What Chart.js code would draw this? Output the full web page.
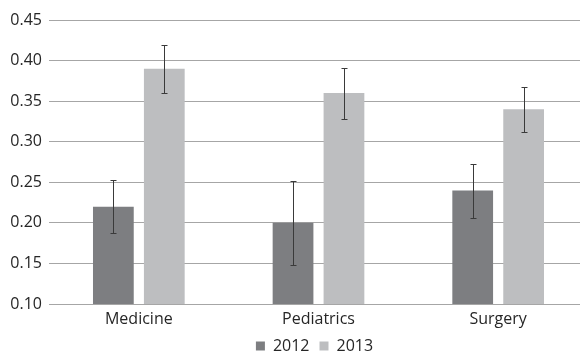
<!DOCTYPE html>
<html>
<head>
<meta charset="utf-8">
<script src="https://cdn.jsdelivr.net/npm/chart.js@4"></script>
<style>
  html, body { margin: 0; padding: 0; background: #fff; }
  #wrap { width: 580px; height: 353px; }
</style>
</head>
<body>
<div id="wrap"><canvas id="chart" width="580" height="353"></canvas></div>
<script>
const categories = ['Medicine', 'Pediatrics', 'Surgery'];
const seriesNames = ['2012', '2013'];
const values2012 = [0.22, 0.20, 0.24];
const values2013 = [0.39, 0.36, 0.34];
// error bar ends
const low2012 = [0.187, 0.148, 0.206];
const high2012 = [0.253, 0.252, 0.273];
const low2013 = [0.360, 0.328, 0.312];
const high2013 = [0.419, 0.391, 0.367];
const yTicks = [0.10, 0.15, 0.20, 0.25, 0.30, 0.35, 0.40, 0.45];

const errorRanges = [
    { low: low2012, high: high2012 },
    { low: low2013, high: high2013 }
];

// draws the whiskers using the chart's own y scale
const errorBars = {
    id: 'errorBars',
    afterDatasetsDraw(chart) {
        const ctx = chart.ctx;
        const yScale = chart.scales.y;
        ctx.save();
        ctx.strokeStyle = '#3a3a3a';
        ctx.lineWidth = 1;
        chart.data.datasets.forEach((ds, i) => {
            const meta = chart.getDatasetMeta(i);
            meta.data.forEach((bar, j) => {
                const x = Math.round(bar.x) + 0.5;
                const yTop = Math.round(yScale.getPixelForValue(errorRanges[i].high[j])) + 0.5;
                const yBot = Math.round(yScale.getPixelForValue(errorRanges[i].low[j])) + 0.5;
                ctx.beginPath();
                ctx.moveTo(x, yTop);
                ctx.lineTo(x, yBot);
                ctx.moveTo(x - 3, yTop);
                ctx.lineTo(x + 3, yTop);
                ctx.moveTo(x - 3, yBot);
                ctx.lineTo(x + 3, yBot);
                ctx.stroke();
            });
        });
        ctx.restore();
    }
};

// keep the legend strip short so it sits close to the bottom edge
const legendHeight = {
    id: 'legendHeight',
    afterInit(chart) {
        const legend = chart.legend;
        if (!legend) return;
        const fit = legend.fit;
        legend.fit = function () {
            fit.call(this);
            this.height = 25;
        };
    }
};

// the original plot runs a few pixels past the right edge of the image
const widenPlot = {
    id: 'widenPlot',
    afterLayout(chart) {
        const extra = 8;
        const x = chart.scales.x;
        chart.chartArea.right += extra;
        chart.chartArea.width += extra;
        x.right += extra;
        x.width += extra;
        x.configure();
        chart.scales.y.configure();
    }
};

const fontFamily = '"Open Sans", "Liberation Sans", sans-serif';

new Chart(document.getElementById('chart'), {
    type: 'bar',
    data: {
        labels: categories,
        datasets: [
            {
                label: seriesNames[0],
                data: values2012,
                backgroundColor: '#7d7e81'
            },
            {
                label: seriesNames[1],
                data: values2013,
                backgroundColor: '#bdbec0'
            }
        ]
    },
    options: {
        responsive: false,
        animation: false,
        devicePixelRatio: 1,
        categoryPercentage: 0.567,
        barPercentage: 0.8,
        layout: { padding: { top: 20, right: 0, left: 0, bottom: 0 } },
        scales: {
            x: {
                grid: { display: false, drawTicks: false },
                border: { display: false },
                afterFit: (scale) => { scale.height = 24; },
                ticks: { color: '#262626', font: { family: fontFamily, size: 16 }, padding: 6 }
            },
            y: {
                min: 0.10,
                max: 0.45,
                afterBuildTicks: (scale) => {
                    scale.ticks = yTicks.map(v => ({ value: v }));
                },
                afterFit: (scale) => { scale.width = 49; },
                grid: { color: '#a6a6a6', lineWidth: 1, drawTicks: false },
                border: { display: false },
                ticks: {
                    color: '#262626',
                    font: { family: fontFamily, size: 16 },
                    padding: 7,
                    callback: (v) => Number(v).toFixed(2)
                }
            }
        },
        plugins: {
            legend: {
                position: 'bottom',
                fullSize: false,
                labels: {
                    color: '#262626',
                    font: { family: fontFamily, size: 16 },
                    boxWidth: 9,
                    boxHeight: 9,
                    padding: 10
                }
            },
            tooltip: { enabled: false }
        }
    },
    plugins: [errorBars, legendHeight, widenPlot]
});
</script>
</body>
</html>
